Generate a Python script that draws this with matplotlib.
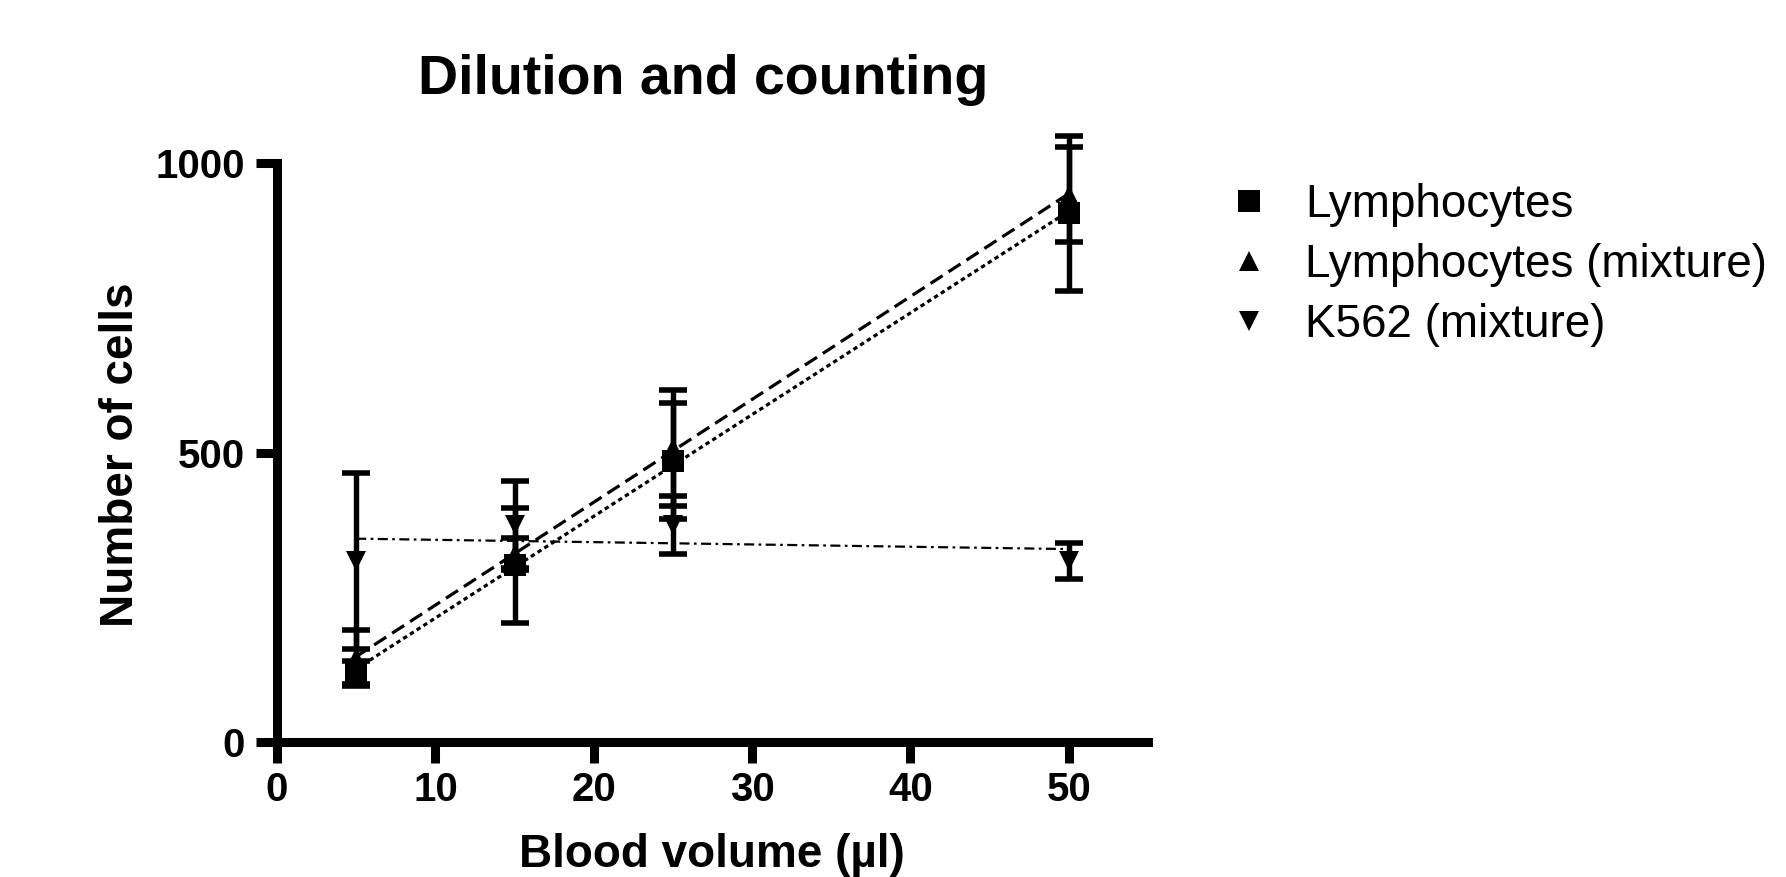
import numpy as np
import matplotlib
matplotlib.use("Agg")
import matplotlib.pyplot as plt
from matplotlib.lines import Line2D

plt.rcParams['font.family'] = ['Liberation Sans', 'DejaVu Sans']

# data
volume = [5, 15, 25, 50]

lymph_mean = [120, 305, 485, 913]
lymph_err = [20, 100, 100, 134]

lymph_mix_mean = [145, 325, 508, 945]
lymph_mix_err = [48, 28, 100, 82]

k562_mean = [312, 375, 375, 313]
k562_err = [152, 75, 50, 31]

series = [
    ("Lymphocytes", lymph_mean, lymph_err, 's', 15.8, (0, (1.4, 1.1))),
    ("Lymphocytes (mixture)", lymph_mix_mean, lymph_mix_err, '^', 14.5, (0, (4.5, 2.2))),
    ("K562 (mixture)", k562_mean, k562_err, 'v', 14.5, (0, (4.5, 2.0, 1.2, 2.0))),
]
line_widths = [2.3, 2.3, 1.6]

fig = plt.figure(figsize=(17.86, 8.77), dpi=100)
ax = fig.add_axes([0.1551, 0.1539, 0.4877, 0.6602])

x = np.array(volume, dtype=float)
for (label, mean, err, marker, ms, ls), lw in zip(series, line_widths):
    # linear regression line over the measured range
    slope, icpt = np.polyfit(x, mean, 1)
    xs = np.array([x.min(), x.max()])
    ax.plot(xs, slope * xs + icpt, color='black', lw=lw, linestyle=ls, zorder=2)

for label, mean, err, marker, ms, ls in series[::-1]:
    bars = ax.errorbar(volume, mean, yerr=err, fmt='none', ecolor='black',
                       elinewidth=3.9, capsize=10, capthick=4.0, zorder=3)
    for art in tuple(bars.lines[1]) + tuple(bars.lines[2]):
        art.set_clip_on(False)
    ax.plot(volume, mean, linestyle='none', marker=marker, ms=ms, mew=0,
            color='black', zorder=4, clip_on=False)

ax.set_xlim(0, 55)
ax.set_ylim(0, 1000)
ax.set_xticks([0, 10, 20, 30, 40, 50])
ax.set_yticks([0, 500, 1000])
for s in ['top', 'right']:
    ax.spines[s].set_visible(False)
for s in ['left', 'bottom']:
    ax.spines[s].set_linewidth(6.5)
ax.tick_params(axis='both', direction='out', length=15, width=6.5, labelsize=29)
ax.tick_params(axis='y', pad=8)
ax.tick_params(axis='x', pad=6)
for t in ax.get_xticklabels() + ax.get_yticklabels():
    t.set_fontweight('bold')

fig.text(0.3936, 1 - 94 / 877, "Dilution and counting", ha='center', va='baseline',
         fontsize=40, fontweight='bold')
fig.text(712 / 1786, 1 - 867 / 877, "Blood volume (µl)", ha='center', va='baseline',
         fontsize=33, fontweight='bold')
fig.text(133 / 1786, 1 - 455 / 877, "Number of cells", ha='center', va='baseline',
         rotation=90, rotation_mode='anchor', fontsize=33, fontweight='bold')

handles = [Line2D([], [], color='black', marker=m, ms=ms, mew=0, linestyle='none')
           for _, _, _, m, ms, _ in series]
labels = [s[0] for s in series]
fig.legend(handles, labels, loc='upper left', bbox_to_anchor=(1226 / 1786, 1 - 183 / 877),
           frameon=False, fontsize=33, handlelength=1.0, handletextpad=0.72,
           labelspacing=0.35, borderpad=0, borderaxespad=0)

fig.savefig("out.png", dpi=100)
